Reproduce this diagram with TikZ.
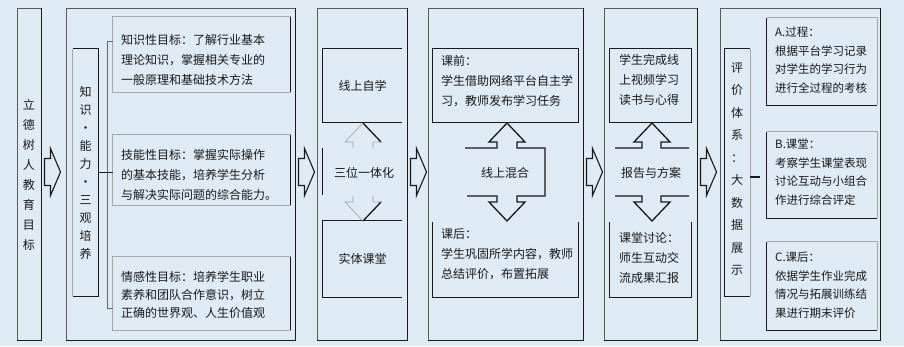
\documentclass[tikz,border=0pt]{standalone}
\usepackage{fontspec}
\newfontfamily\cjk{Noto Sans CJK SC}
\usetikzlibrary{positioning}
\definecolor{bg_blue}{RGB}{222, 234, 244}
\definecolor{ink}{RGB}{25, 25, 25}
\tikzstyle{col}=[draw=black!65,line width=1pt,inner sep=0pt]
\tikzstyle{box}=[inner sep=0pt]
\tikzstyle{dark}=[draw=black!90,line width=1.3pt]
\tikzstyle{lite}=[draw=black!35,line width=0.7pt]
\tikzstyle{txt}=[font=\cjk\fontsize{12}{20}\selectfont,text=ink,align=left,
  inner sep=0pt,anchor=north west]
\tikzstyle{smalltxt}=[txt,font=\cjk\fontsize{11.5}{18.5}\selectfont]
\tikzstyle{vtxt}=[font=\cjk\fontsize{12}{20}\selectfont,text=ink,align=center,
  inner sep=0pt]

\begin{document}
\begin{tikzpicture}[x=1pt,y=-1pt]
    \fill[bg_blue] (0,0) rectangle (904,346);
    \useasboundingbox (0,0) rectangle (904,346);
    \node[col,minimum width=24pt,minimum height=332pt] (goal) at (29,174) {};
    \node[col,minimum width=229pt,minimum height=332pt] (aims) at (180.5,174) {};
    \node[col,minimum width=90pt,minimum height=332pt] (modes) at (362,174) {};
    \node[col,minimum width=155pt,minimum height=332pt] (stages) at (505.5,174) {};
    \node[col,minimum width=93pt,minimum height=332pt] (tasks) at (650.5,174) {};
    \node[col,minimum width=160pt,minimum height=332pt] (evals) at (800,174) {};
    \foreach \c in {goal,aims,modes,stages,tasks,evals}
      \draw[dark] (\c.north east) -- (\c.south east) -- (\c.south west);
    \foreach \a in {goal,aims,modes,stages,tasks}
      \draw[dark,line width=1.1pt] ([shift={(3,-15.5)}]\a.east) -- ++(6,0) -- ++(0,-10)
        -- ++(10,23.5) -- ++(-10,23.5) -- ++(0,-10) -- ++(-6,0) -- cycle;

    \node[vtxt] (goaltxt) at (29,175) {立\\德\\树\\人\\教\\育\\目\\标};

    \node[box,minimum width=25pt,minimum height=247pt] (aimbar) at (85.5,172.5) {};
    \draw[lite] (aimbar.north west) -- (aimbar.south west);
    \draw[dark] (aimbar.north west) -- (aimbar.north east) -- (aimbar.south east) -- (aimbar.south west);
    \node[vtxt,font=\cjk\fontsize{12}{18}\selectfont] (aimtxt) at (aimbar) {知\\识\\·\\能\\力\\·\\三\\观\\培\\养};
    \node[box,minimum width=177pt,minimum height=75pt] (know) at (201.5,54.5) {};
    \node[box,minimum width=177pt,minimum height=70pt] (skill) at (201.5,170) {};
    \node[box,minimum width=177pt,minimum height=73pt] (mind) at (201.5,293.5) {};
    \foreach \b in {know,skill,mind} {
      \draw[lite] (\b.north west) rectangle (\b.south east);
      \draw[dark] (\b.north east) -- (\b.south east);
    }
    \node[txt] (knowtxt) at (121,34) {知识性目标：了解行业基本\\理论知识，掌握相关专业的\\一般原理和基础技术方法};
    \node[txt] (skilltxt) at (121,149) {技能性目标：掌握实际操作\\的基本技能，培养学生分析\\与解决实际问题的综合能力。};
    \node[txt,font=\cjk\fontsize{12}{18}\selectfont] (mindtxt) at (121,271) {情感性目标：培养学生职业\\素养和团队合作意识，树立\\正确的世界观、人生价值观};
    \coordinate (brtop) at (107,41);
    \coordinate (brbot) at (107,308);
    \draw[draw=black!60,line width=0.9pt] (brtop -| know.west) -- (brtop) -- (brbot) -- (brbot -| mind.west);
    \draw[dark] (aimbar.east) -- (aimbar.east -| skill.west);

    \node[box,minimum width=79pt,minimum height=73pt] (online) at (362.5,85.5) {};
    \node[box,minimum width=79pt,minimum height=76pt] (offline) at (362.5,259) {};
    \foreach \b in {online,offline}
      \draw[dark] (\b.north east) -- (\b.north west) -- (\b.south west) -- (\b.south east);
    \node[vtxt] (onlinetxt) at (online) {线上自学};
    \node[vtxt] (triad) at (364,173) {三位一体化};
    \node[vtxt] (offlinetxt) at (offline) {实体课堂};
    \draw[dark] (online.south west) ++(0,26) -- ++(0,47);
    \draw[lite] (353,148) -- (353,142) -- (345,142) -- (363,123) -- (381,142) -- (373,142) -- (373,148);
    \draw[dark] (363,123) -- (381,142);
    \draw[lite] (353,196) -- (353,202) -- (345,202) -- (363,221) -- (381,202) -- (373,202) -- (373,196);
    \draw[dark] (381,202) -- (363,221);

    \node[box,minimum width=145pt,minimum height=73pt] (prep) at (505.5,85.5) {};
    \node[box,minimum width=145pt,minimum height=75pt] (review) at (505.5,259.5) {};
    \draw[dark] (prep.north west) rectangle (prep.south east);
    \draw[dark] (review.north west) -- (review.south west) -- (review.south east) -- (review.north east);
    \node[txt] (preptxt) at (441,55) {课前：\\学生借助网络平台自主学\\习，教师发布学习任务};
    \node[vtxt] (blend) at (505,173) {线上混合};
    \node[txt] (reviewtxt) at (441,228) {课后：\\学生巩固所学内容，教师\\总结评价，布置拓展};
    \draw[dark] (465,148) -- (497,148) -- (497,142) -- (489,142) -- (507,123) -- (525,142)
      -- (517,142) -- (517,148) -- (545,148) -- (545,196) -- (517,196) -- (517,202)
      -- (525,202) -- (507,221) -- (489,202) -- (497,202) -- (497,196) -- (467,196);

    \node[box,minimum width=81pt,minimum height=73pt] (selfstudy) at (650.5,85.5) {};
    \node[box,minimum width=81pt,minimum height=75pt] (classwork) at (650.5,259.5) {};
    \draw[dark] (selfstudy.north west) rectangle (selfstudy.south east);
    \draw[dark] (classwork.north west) -- (classwork.south west) -- (classwork.south east) -- (classwork.north east);
    \node[txt] (selftxt) at (619,54) {学生完成线\\上视频学习\\读书与心得};
    \node[vtxt] (plan) at (651,173) {报告与方案};
    \node[txt] (classtxt) at (619,232) {课堂讨论：\\师生互动交\\流成果汇报};
    \draw[dark] (615,148) -- (642,148) -- (642,142) -- (634,142) -- (652,123) -- (670,142)
      -- (661,142) -- (661,148) -- (689,148);
    \draw[dark] (615,196) -- (642,196) -- (642,202) -- (634,202) -- (652,221) -- (670,202)
      -- (661,202) -- (661,196) -- (689,196);

    \node[box,minimum width=25pt,minimum height=247pt] (evalbar) at (737.5,172.5) {};
    \draw[dark] (evalbar.north east) -- (evalbar.north west) -- (evalbar.south west) -- (evalbar.south east);
    \draw[lite] (evalbar.north east) -- (evalbar.south east);
    \node[vtxt,font=\cjk\fontsize{12}{22.5}\selectfont] (evaltxt) at (737,169) {评\\价\\体\\系\\：\\大\\数\\据\\展\\示};
    \coordinate (evaltick) at (760,177);
    \draw[dark] (evalbar.east |- evaltick) -- (evaltick);
    \node[box,minimum width=110pt,minimum height=87pt] (proc) at (822,61.5) {};
    \node[box,minimum width=110pt,minimum height=86pt] (inclass) at (822,175) {};
    \node[box,minimum width=110pt,minimum height=88pt] (after) at (822,286) {};
    \foreach \b in {proc,inclass,after} {
      \draw[lite] (\b.north west) -- (\b.north east) -- (\b.south east);
      \draw[dark] (\b.north west) -- (\b.south west) -- (\b.south east);
    }
    \node[smalltxt] (proctxt) at (775,27) {A.过程：\\根据平台学习记录\\对学生的学习行为\\进行全过程的考核};
    \node[smalltxt] (inclasstxt) at (775,139) {B.课堂：\\考察学生课堂表现\\讨论互动与小组合\\作进行综合评定};
    \node[smalltxt] (aftertxt) at (775,252) {C.课后：\\依据学生作业完成\\情况与拓展训练结\\果进行期末评价};
\end{tikzpicture}
\end{document}
